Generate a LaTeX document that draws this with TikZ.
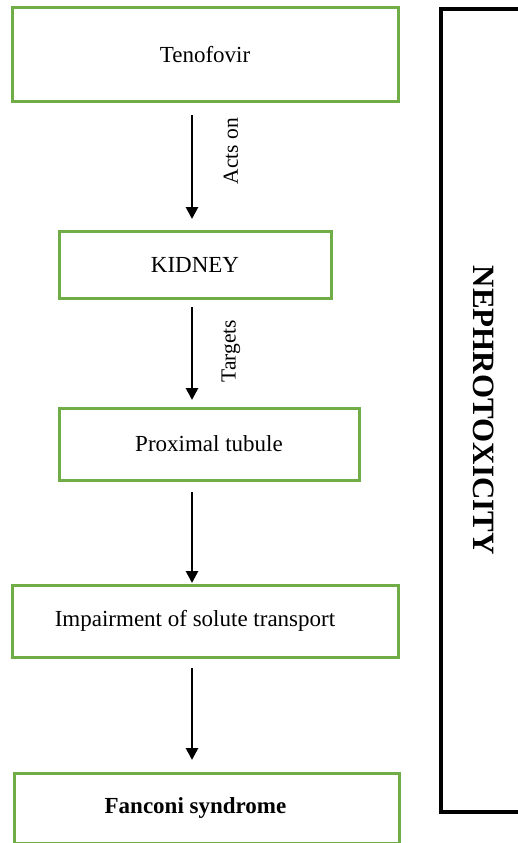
\documentclass[tikz,border=0pt]{standalone}
\usepackage{fontspec}
\setmainfont{Liberation Serif}
\usetikzlibrary{arrows.meta,positioning}
\definecolor{boxgreen}{HTML}{70AD47}
\tikzset{
  stagebox/.style={draw=boxgreen, line width=3pt, font=\fontsize{23}{27}\selectfont},
  flow/.style={line width=2.7pt, -{Triangle[length=12pt,width=12pt]}},
  flowlabel/.style={rotate=90, inner sep=0pt, font=\fontsize{21.5}{25}\selectfont},
}

\begin{document}
\begin{tikzpicture}[x=1pt,y=-1pt]
  \useasboundingbox (0,0) rectangle (518,843);
  \clip (0,0) rectangle (518,843);
  % steps down the left side
  \node[stagebox, minimum width=386pt, minimum height=93pt] (tenofovir) at (205,54.5) {Tenofovir};
  \node[stagebox, minimum width=272pt, minimum height=67pt] (kidney) at (195,264.5) {KIDNEY};
  \node[stagebox, minimum width=300pt, minimum height=72pt] (proximal) at (209,444) {Proximal tubule};
  \node[stagebox, minimum width=386pt, minimum height=72pt] (impairment) at (205,621) {Impairment of solute transport\hspace*{20pt}};
  \node[stagebox, minimum width=385pt, minimum height=70pt] (fanconi) at (206.5,808) {\bfseries Fanconi syndrome\hspace*{22pt}};
  % arrows between the steps
  \coordinate (spine) at (192,0);
  \draw[flow, shorten <=12.5pt, shorten >=10.5pt] (tenofovir.south -| spine) -- (kidney.north -| spine);
  \draw[flow, shorten <=7.5pt, shorten >=6.5pt] (kidney.south -| spine) -- (proximal.north -| spine);
  \draw[flow, shorten <=10.5pt, shorten >=0.5pt] (proximal.south -| spine) -- (impairment.north -| spine);
  \draw[flow, shorten <=9.5pt, shorten >=11.5pt] (impairment.south -| spine) -- (fanconi.north -| spine);
  \node[flowlabel] (actson) at (231,151) {Acts on};
  \node[flowlabel] (targets) at (231,351) {Targets};
  % side panel
  \node[draw, line width=4pt, rotate=-90, minimum width=802.5pt, minimum height=85pt,
        font=\fontsize{31}{36}\selectfont\bfseries] (nephro) at (483.5,410.25) {NEPHROTOXICITY};
\end{tikzpicture}
\end{document}
